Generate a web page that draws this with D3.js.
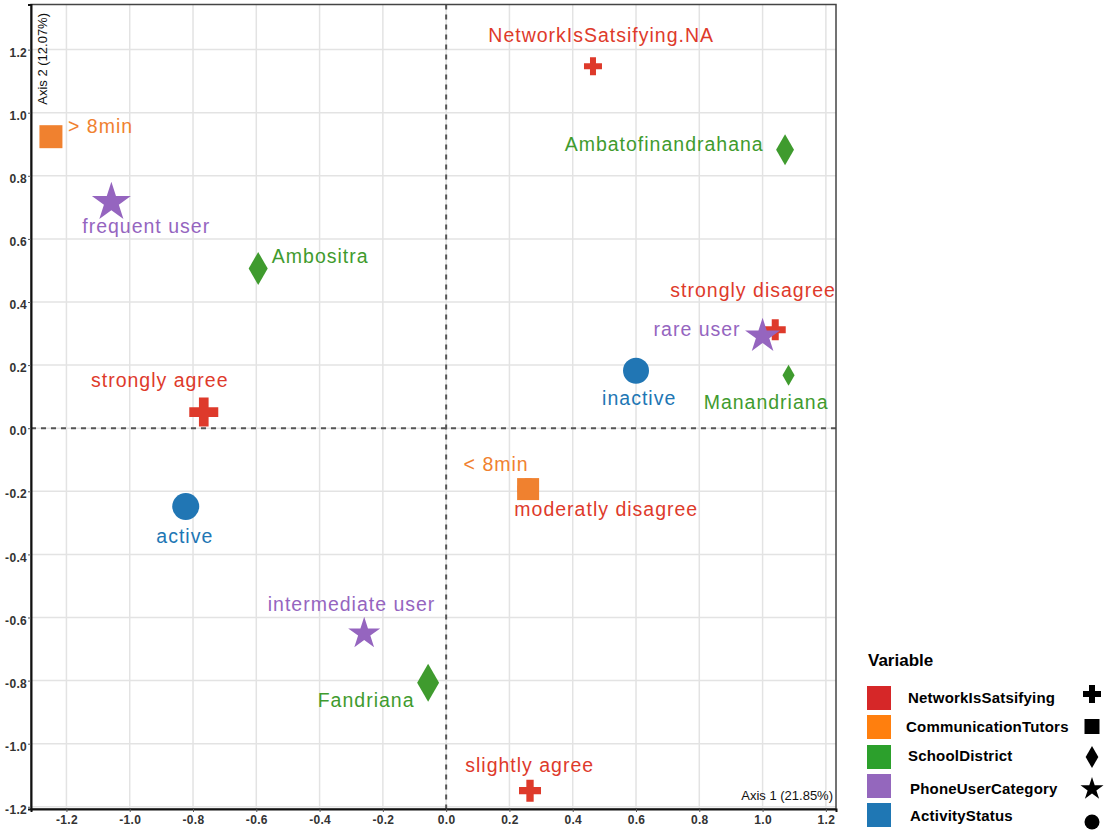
<!DOCTYPE html>
<html>
<head>
<meta charset="utf-8">
<script src="https://cdn.jsdelivr.net/npm/d3@7"></script>
<style>
  html, body { margin: 0; padding: 0; background: #fff; }
  svg { display: block; font-family: "Liberation Sans", Arial, Helvetica, sans-serif; }
</style>
</head>
<body>
<svg id="chart" width="1105" height="830"></svg>
<script>
// ---- data -------------------------------------------------------------
const variables = ["NetworkIsSatsifying", "CommunicationTutors", "SchoolDistrict", "PhoneUserCategory", "ActivityStatus"];

const categories = [
  "NetworkIsSatsifying.NA", "strongly disagree", "strongly agree", "moderatly disagree", "slightly agree",
  "> 8min", "< 8min",
  "Ambatofinandrahana", "Ambositra", "Manandriana", "Fandriana",
  "frequent user", "rare user", "intermediate user",
  "inactive", "active"
];
const categoryVariable = [0, 0, 0, 0, 0, 1, 1, 2, 2, 2, 2, 3, 3, 3, 4, 4];

// coordinates on the first two dimensions
const dim1 = [0.464, 1.040, -0.766, 0.259, 0.265, -1.249, 0.259, 1.071, -0.594, 1.082, -0.057, -1.058, 1.000, -0.259, 0.600, -0.823];
const dim2 = [1.147, 0.312, 0.051, -0.193, -1.149, 0.924, -0.193, 0.883, 0.506, 0.168, -0.807, 0.716, 0.292, -0.651, 0.182, -0.248];

const xTickValues = [-1.2, -1.0, -0.8, -0.6, -0.4, -0.2, 0.0, 0.2, 0.4, 0.6, 0.8, 1.0, 1.2];
const xTickLabels = ["-1.2", "-1.0", "-0.8", "-0.6", "-0.4", "-0.2", "0.0", "0.2", "0.4", "0.6", "0.8", "1.0", "1.2"];
const yTickValues = [-1.2, -1.0, -0.8, -0.6, -0.4, -0.2, 0.0, 0.2, 0.4, 0.6, 0.8, 1.0, 1.2];
const yTickLabels = ["-1.2", "-1.0", "-0.8", "-0.6", "-0.4", "-0.2", "0.0", "0.2", "0.4", "0.6", "0.8", "1.0", "1.2"];

const axis1Title = "Axis 1 (21.85%)";
const axis2Title = "Axis 2 (12.07%)";
const legendTitle = "Variable";

// ---- layout & style ---------------------------------------------------
const shapes = ["cross", "square", "diamond", "star", "circle"];
const markColors = ["#de3a2b", "#f0812f", "#3f9b2e", "#9565bf", "#2176b4"];
const legendColors = ["#d62728", "#ff7f0e", "#2ca02c", "#9467bd", "#1f77b4"];

// marker extent in px (width; height for diamonds)
const markerPx = [18, 21, 29, 21, 22, 23, 22, 31, 33, 21, 38, 39, 35, 32, 26, 27];

// label anchors (text centre, baseline) in plot units
const labelX = [0.490, 0.970, -0.905, 0.506, 0.264, -1.092, 0.158, 0.689, -0.398, 1.011, -0.253, -0.948, 0.793, -0.299, 0.610, -0.826];
const labelY = [1.225, 0.417, 0.132, -0.277, -1.089, 0.937, -0.135, 0.879, 0.525, 0.062, -0.883, 0.620, 0.293, -0.578, 0.074, -0.363];

const plot = { left: 31, right: 836, top: 4.5, bottom: 809 };

const svg = d3.select("#chart");

const x = d3.scaleLinear().domain([-1.312, 1.232]).range([plot.left, plot.right]);
const y = d3.scaleLinear().domain([-1.207, 1.343]).range([plot.bottom, plot.top]);

function symbolFor(shape, px) {
  let type, size;
  if (shape === "cross") { type = d3.symbolCross; size = 5 * Math.pow(px / 3, 2); }
  else if (shape === "square") { type = d3.symbolSquare; size = px * px; }
  else if (shape === "diamond") { type = d3.symbolDiamond; size = Math.pow(px / 2, 2) * 2 * Math.tan(Math.PI / 6); }
  else if (shape === "star") { type = d3.symbolStar; const R = px / (2 * Math.sin(2 * Math.PI / 5)); size = R * R / 0.8908130915292852; }
  else { type = d3.symbolCircle; size = Math.PI * Math.pow(px / 2, 2); }
  return d3.symbol().type(type).size(size)();
}

// ---- grid ---------------------------------------------------------------
const grid = svg.append("g");
grid.selectAll("line.vx").data(xTickValues).join("line")
  .attr("x1", d => x(d)).attr("x2", d => x(d))
  .attr("y1", plot.top).attr("y2", plot.bottom)
  .attr("stroke", "#e3e3e3").attr("stroke-width", 1.5);
grid.selectAll("line.hy").data(yTickValues).join("line")
  .attr("x1", plot.left).attr("x2", plot.right)
  .attr("y1", d => y(d)).attr("y2", d => y(d))
  .attr("stroke", "#e3e3e3").attr("stroke-width", 1.5);

// zero reference lines
svg.append("line")
  .attr("x1", x(0)).attr("x2", x(0)).attr("y1", plot.top).attr("y2", plot.bottom)
  .attr("stroke", "#555").attr("stroke-width", 2).attr("stroke-dasharray", "5,5");
svg.append("line")
  .attr("x1", plot.left).attr("x2", plot.right).attr("y1", y(0)).attr("y2", y(0))
  .attr("stroke", "#555").attr("stroke-width", 2).attr("stroke-dasharray", "5,5");

// panel border
svg.append("rect")
  .attr("x", plot.left).attr("y", plot.top)
  .attr("width", plot.right - plot.left).attr("height", plot.bottom - plot.top)
  .attr("fill", "none").attr("stroke", "#444").attr("stroke-width", 1.5);

// ---- axes ---------------------------------------------------------------
const xAxis = svg.append("g")
  .attr("transform", `translate(0,${plot.bottom})`)
  .call(d3.axisBottom(x).tickValues(xTickValues).tickFormat((d, i) => xTickLabels[i]).tickSize(3).tickPadding(3));
const yAxis = svg.append("g")
  .attr("transform", `translate(${plot.left},0)`)
  .call(d3.axisLeft(y).tickValues(yTickValues).tickFormat((d, i) => yTickLabels[i]).tickSize(3).tickPadding(1));

[xAxis, yAxis].forEach(g => {
  g.select(".domain").attr("stroke", "#111").attr("stroke-width", 2);
  g.selectAll(".tick line").attr("stroke", "#555");
  g.selectAll(".tick text")
    .attr("fill", "#333")
    .style("font-size", "12px")
    .style("font-weight", "bold")
    .style("letter-spacing", "0.3px")
    .style("font-family", "'Liberation Sans', Arial, sans-serif");
});
yAxis.selectAll(".tick text").attr("dy", "0.55em");

svg.append("text")
  .attr("transform", `translate(46.5,13) rotate(-90)`)
  .attr("text-anchor", "end")
  .attr("fill", "#111")
  .style("font-size", "13px")
  .text(axis2Title);

svg.append("text")
  .attr("x", 833).attr("y", 799.5)
  .attr("text-anchor", "end")
  .attr("fill", "#111")
  .style("font-size", "13px")
  .text(axis1Title);

// ---- markers --------------------------------------------------------------
const points = categories.map((name, i) => ({
  name, v: categoryVariable[i], d1: dim1[i], d2: dim2[i], px: markerPx[i], lx: labelX[i], ly: labelY[i]
}));
const drawOrder = d3.sort(points, p => p.v);

svg.append("g").selectAll("path").data(drawOrder).join("path")
  .attr("transform", d => `translate(${x(d.d1)},${y(d.d2)})`)
  .attr("d", d => symbolFor(shapes[d.v], d.px))
  .attr("fill", d => markColors[d.v]);

svg.append("g").selectAll("text").data(points).join("text")
  .attr("x", d => x(d.lx)).attr("y", d => y(d.ly))
  .attr("text-anchor", "middle")
  .attr("fill", d => markColors[d.v])
  .style("font-size", "19.5px")
  .style("letter-spacing", "1px")
  .text(d => d.name);

// ---- legend ----------------------------------------------------------------
const legendRows = [
  { tx: 908, base: 702.5, sy: 694, box: 686 },
  { tx: 906, base: 732, sy: 726.5, box: 715 },
  { tx: 908, base: 760.5, sy: 757, box: 745 },
  { tx: 910, base: 794, sy: 789, box: 774 },
  { tx: 910, base: 821, sy: 822, box: 803 }
];
const legendSymbolPx = [18, 15, 22, 23, 15];

const legend = svg.append("g");
legend.append("text")
  .attr("x", 868).attr("y", 666)
  .attr("fill", "#000")
  .style("font-size", "17px").style("font-weight", "bold")
  .text(legendTitle);

const rows = legend.selectAll("g.row").data(variables).join("g");
rows.append("rect")
  .attr("x", 867).attr("y", (d, i) => legendRows[i].box)
  .attr("width", 24).attr("height", 24)
  .attr("fill", (d, i) => legendColors[i]);
rows.append("text")
  .attr("x", (d, i) => legendRows[i].tx).attr("y", (d, i) => legendRows[i].base)
  .attr("fill", "#000")
  .style("font-size", "15px").style("font-weight", "bold").style("letter-spacing", "0.2px")
  .text(d => d);
rows.append("path")
  .attr("transform", (d, i) => `translate(1092,${legendRows[i].sy})`)
  .attr("d", (d, i) => symbolFor(shapes[i], legendSymbolPx[i]))
  .attr("fill", "#000");
</script>
</body>
</html>
